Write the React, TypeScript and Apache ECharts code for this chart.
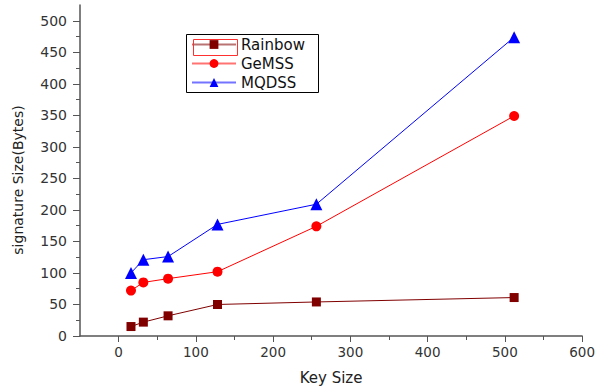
import React, { useEffect, useRef } from "react";
import * as echarts from "echarts";

const keySizes = [16, 32, 64, 128, 256, 512];
const rainbow = [15, 22, 32, 50, 54, 61];
const gemss = [72, 85, 91, 102, 174, 349];
const mqdss = [100, 121, 126, 177, 209, 474];
const xMajorTicks = [0, 100, 200, 300, 400, 500, 600];
const xMinorTicks = [50, 150, 250, 350, 450, 550];
const yMajorTicks = [0, 50, 100, 150, 200, 250, 300, 350, 400, 450, 500];
const yMinorTicks = [25, 75, 125, 175, 225, 275, 325, 375, 425, 475];

const font = "DejaVu Sans, Arial, sans-serif";

export default function App() {
  const ref = useRef<HTMLDivElement>(null);
  useEffect(() => {
    const chart = echarts.init(ref.current!, undefined, { renderer: "svg" });
    const pair = (ys: number[]) => keySizes.map((x, i) => [x, ys[i]]);
    const axisColor = "#555";
    const xBase = {
      type: "value",
      min: -50,
      max: 600,
      splitLine: { show: false },
      axisLine: { show: true, onZero: false, lineStyle: { color: axisColor, width: 1.5 } },
    };
    const yBase = {
      type: "value",
      min: 0,
      max: 525,
      splitLine: { show: false },
      axisLine: { show: true, onZero: false, lineStyle: { color: axisColor, width: 1.5 } },
    };
    chart.setOption({
      animation: false,
      backgroundColor: "#fff",
      grid: { left: 80, right: 11, top: 5, bottom: 56, containLabel: false },
      xAxis: [
        {
          ...xBase,
          name: "Key Size",
          nameLocation: "middle",
          nameGap: 34,
          nameTextStyle: { fontFamily: font, fontSize: 15, color: "#222" },
          axisTick: { show: true, customValues: xMajorTicks, length: 6, lineStyle: { color: axisColor } },
          axisLabel: { customValues: xMajorTicks, margin: 9, fontFamily: font, fontSize: 13.5, color: "#333" },
        },
        {
          ...xBase,
          position: "bottom",
          axisLine: { show: false, onZero: false },
          axisTick: { show: true, customValues: xMinorTicks, length: 4, lineStyle: { color: axisColor } },
          axisLabel: { show: false },
        },
      ],
      yAxis: [
        {
          ...yBase,
          axisTick: { show: true, customValues: yMajorTicks, length: 7, lineStyle: { color: axisColor } },
          axisLabel: { customValues: yMajorTicks, margin: 13, fontFamily: font, fontSize: 14, color: "#333" },
        },
        {
          ...yBase,
          position: "left",
          axisLine: { show: false, onZero: false },
          axisTick: { show: true, customValues: yMinorTicks, length: 4, lineStyle: { color: axisColor } },
          axisLabel: { show: false },
        },
      ],
      legend: {
        left: 186,
        top: 34,
        orient: "vertical",
        padding: [3, 6, 3, 5],
        itemWidth: 44,
        itemHeight: 11,
        itemGap: 4,
        textStyle: { fontFamily: font, fontSize: 15, color: "#111" },
        lineStyle: { opacity: 0.55, width: 2 },
        data: ["Rainbow", "GeMSS", "MQDSS"],
      },
      graphic: [
        {
          type: "rect",
          left: 186,
          top: 34,
          shape: { width: 132, height: 58 },
          style: { fill: "#fff", stroke: "#000", lineWidth: 1 },
          z: -1,
        },
        {
          type: "rect",
          left: 191,
          top: 37,
          shape: { width: 44, height: 16 },
          style: { fill: "none", stroke: "#ff3030", lineWidth: 1 },
          z: 100,
        },
        {
          type: "text",
          x: 18,
          y: 180,
          rotation: Math.PI / 2,
          style: {
            text: "signature Size(Bytes)",
            fontFamily: font,
            fontSize: 14,
            fill: "#222",
            align: "center",
            verticalAlign: "middle",
          },
        },
      ],
      series: [
        {
          name: "Rainbow",
          type: "line",
          data: pair(rainbow),
          symbol: "rect",
          symbolSize: 9,
          color: "#800000",
          lineStyle: { width: 1, color: "#800000" },
          itemStyle: { color: "#800000" },
        },
        {
          name: "GeMSS",
          type: "line",
          data: pair(gemss),
          symbol: "circle",
          symbolSize: 10,
          color: "#ff0000",
          lineStyle: { width: 1, color: "#ff0000" },
          itemStyle: { color: "#ff0000" },
        },
        {
          name: "MQDSS",
          type: "line",
          data: pair(mqdss),
          symbol: "triangle",
          symbolSize: 12,
          color: "#0000ff",
          lineStyle: { width: 1, color: "#0000ff" },
          itemStyle: { color: "#0000ff" },
        },
      ],
    });
    return () => chart.dispose();
  }, []);
  return <div ref={ref} style={{ width: 598, height: 392, position: "absolute", left: 0, top: 0 }} />;
}
